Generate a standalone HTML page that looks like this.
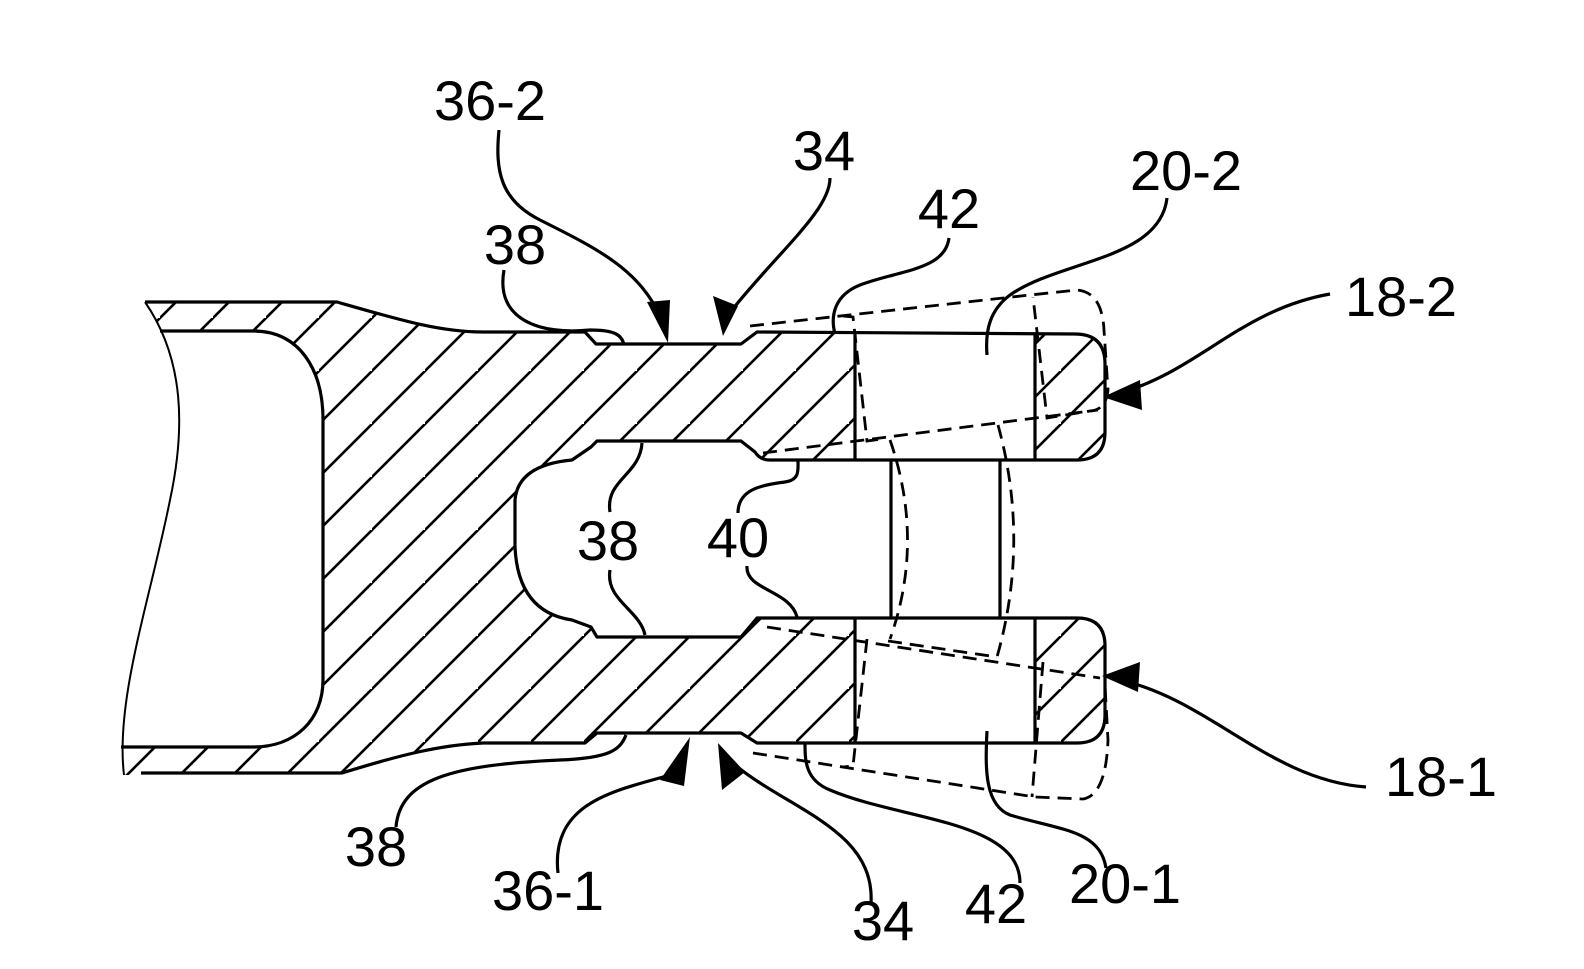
<!DOCTYPE html>
<html><head><meta charset="utf-8"><style>
html,body{margin:0;padding:0;background:#fff;}
svg{display:block;}
text{font-family:"Liberation Sans",sans-serif;font-size:56px;fill:#000;text-anchor:middle;}
</style></head><body>
<svg width="1584" height="969" viewBox="0 0 1584 969" xmlns="http://www.w3.org/2000/svg">
<defs>
<pattern id="h" patternUnits="userSpaceOnUse" x="1" y="0" width="53" height="53">
<path d="M-5,58 L58,-5 M-58,58 L5,-5 M48,111 L111,48" stroke="#000" stroke-width="2.6" fill="none"/>
</pattern>
<clipPath id="c"><path d="M145,302 L337,302 C400,320 440,332 483,332 L585,332 L596,344 L741,344 L757,332 L1075,334 Q1105,334 1105,364 L1105,432 Q1105,460 1077,460 L770,460 Q760,460 755,452 L741,441 L597,441 L591,447 L572,460 Q518,465 515,500 L515,547 Q518,612 572,620 L591,627 L597,637 L741,637 L757,618 L1077,618 Q1105,618 1105,646 L1105,715 Q1105,743 1077,743 L757,743 L741,733 L597,733 L585,743 L483,743 C440,745 400,755 342,773 L124,775 C115,700 150,600 170,500 C185,430 185,360 145,302 Z"/></clipPath>
</defs>
<rect x="0" y="0" width="1584" height="969" fill="#fff"/>
<rect x="0" y="0" width="1584" height="969" fill="url(#h)" clip-path="url(#c)"/>
<path d="M40,331 L253,331 C300,331 323,370 323,420 L323,680 C323,720 295,747 253,747 L40,747 Z" fill="#fff"/>
<rect x="855" y="334" width="180" height="126" fill="#fff"/>
<rect x="855" y="618" width="180" height="125" fill="#fff"/>
<g fill="none" stroke="#000" stroke-width="3.2" stroke-linejoin="round">
<path d="M145,302 L337,302 C400,320 440,332 483,332 L585,332 L596,344 L741,344 L757,332 L1075,334 Q1105,334 1105,364 L1105,432 Q1105,460 1077,460 L770,460 Q760,460 755,452 L741,441 L597,441 L591,447 L572,460 Q518,465 515,500 L515,547 Q518,612 572,620 L591,627 L597,637 L741,637 L757,618 L1077,618 Q1105,618 1105,646 L1105,715 Q1105,743 1077,743 L757,743 L741,733 L597,733 L585,743 L483,743 C440,745 400,755 342,773 L141,773"/>
<path d="M160,331 L253,331 C300,331 323,370 323,420 L323,680 C323,720 295,747 253,747 L121,747"/>
<path d="M855,334 V460 M855,618 V743 M1035,334 V460 M1035,618 V743 M891,460 V618 M1000,460 V618"/>
</g>
<path d="M145,302 C185,360 185,430 170,500 C150,600 115,700 124,775" fill="none" stroke="#000" stroke-width="2"/>
<g fill="none" stroke="#000" stroke-width="2.8" stroke-dasharray="14 8">
<path d="M750,326 L1030,295 L1077,290 Q1102,292 1104,330 L1108,390 Q1106,410 1090,411 L1047,418 L1033,297"/>
<path d="M763,453 L1098,410"/>
<path d="M843,316 L853,317 L867,441 L882,439"/>
<path d="M890,440 Q925,541 890,639"/>
<path d="M998,425 Q1030,541 997,657"/>
<path d="M767,627 L1100,678"/>
<path d="M753,753 L1035,797 L1083,799 Q1106,795 1108,740 L1105,685"/>
<path d="M867,639 L853,766 L843,767"/>
<path d="M888,641 L997,657 M1043,662 L1032,797"/>
</g>
<g fill="none" stroke="#000" stroke-width="3.2">
<path d="M499,130 C495,170 500,200 540,220 C600,250 640,270 662,320"/>
<path d="M830,178 C830,210 780,250 732,310"/>
<path d="M504,270 C495,320 540,335 590,330 C615,330 622,335 624,345"/>
<path d="M949,238 C945,270 900,270 860,285 C835,295 830,315 835,334"/>
<path d="M1167,198 C1160,260 1060,260 1010,295 C990,310 985,330 987,355"/>
<path d="M1330,294 C1240,310 1200,370 1120,393"/>
<path d="M610,512 C605,480 640,475 642,443"/>
<path d="M610,570 C605,600 640,610 645,635"/>
<path d="M738,513 C738,490 760,485 785,482 C800,480 798,470 798,460"/>
<path d="M747,566 C745,590 790,590 797,617"/>
<path d="M1366,787 C1270,780 1210,700 1120,680"/>
<path d="M396,827 C400,780 450,765 560,760 C610,758 620,750 626,735"/>
<path d="M558,873 C550,800 620,790 670,775"/>
<path d="M871,903 C875,830 790,810 735,765"/>
<path d="M1020,883 C1020,820 900,820 830,790 C805,780 805,760 805,743"/>
<path d="M1106,868 C1100,830 1060,830 1010,815 C985,805 985,770 987,731"/>
</g>
<g fill="#000">
<polygon points="668,343 647,302 670,300"/>
<polygon points="723,336 713,296 738,306"/>
<polygon points="1103,397 1140,380 1142,410"/>
<polygon points="1102,676 1140,662 1138,692"/>
<polygon points="690,737 660,780 684,786"/>
<polygon points="718,743 722,790 745,772"/>
</g>
<text x="490" y="120">36-2</text>
<text x="824" y="170">34</text>
<text x="515" y="264">38</text>
<text x="949" y="228">42</text>
<text x="1186" y="190">20-2</text>
<text x="1401" y="316">18-2</text>
<text x="608" y="560">38</text>
<text x="738" y="557">40</text>
<text x="1441" y="796">18-1</text>
<text x="376" y="866">38</text>
<text x="548" y="910">36-1</text>
<text x="883" y="940">34</text>
<text x="996" y="923">42</text>
<text x="1125" y="903">20-1</text>
</svg>
</body></html>
